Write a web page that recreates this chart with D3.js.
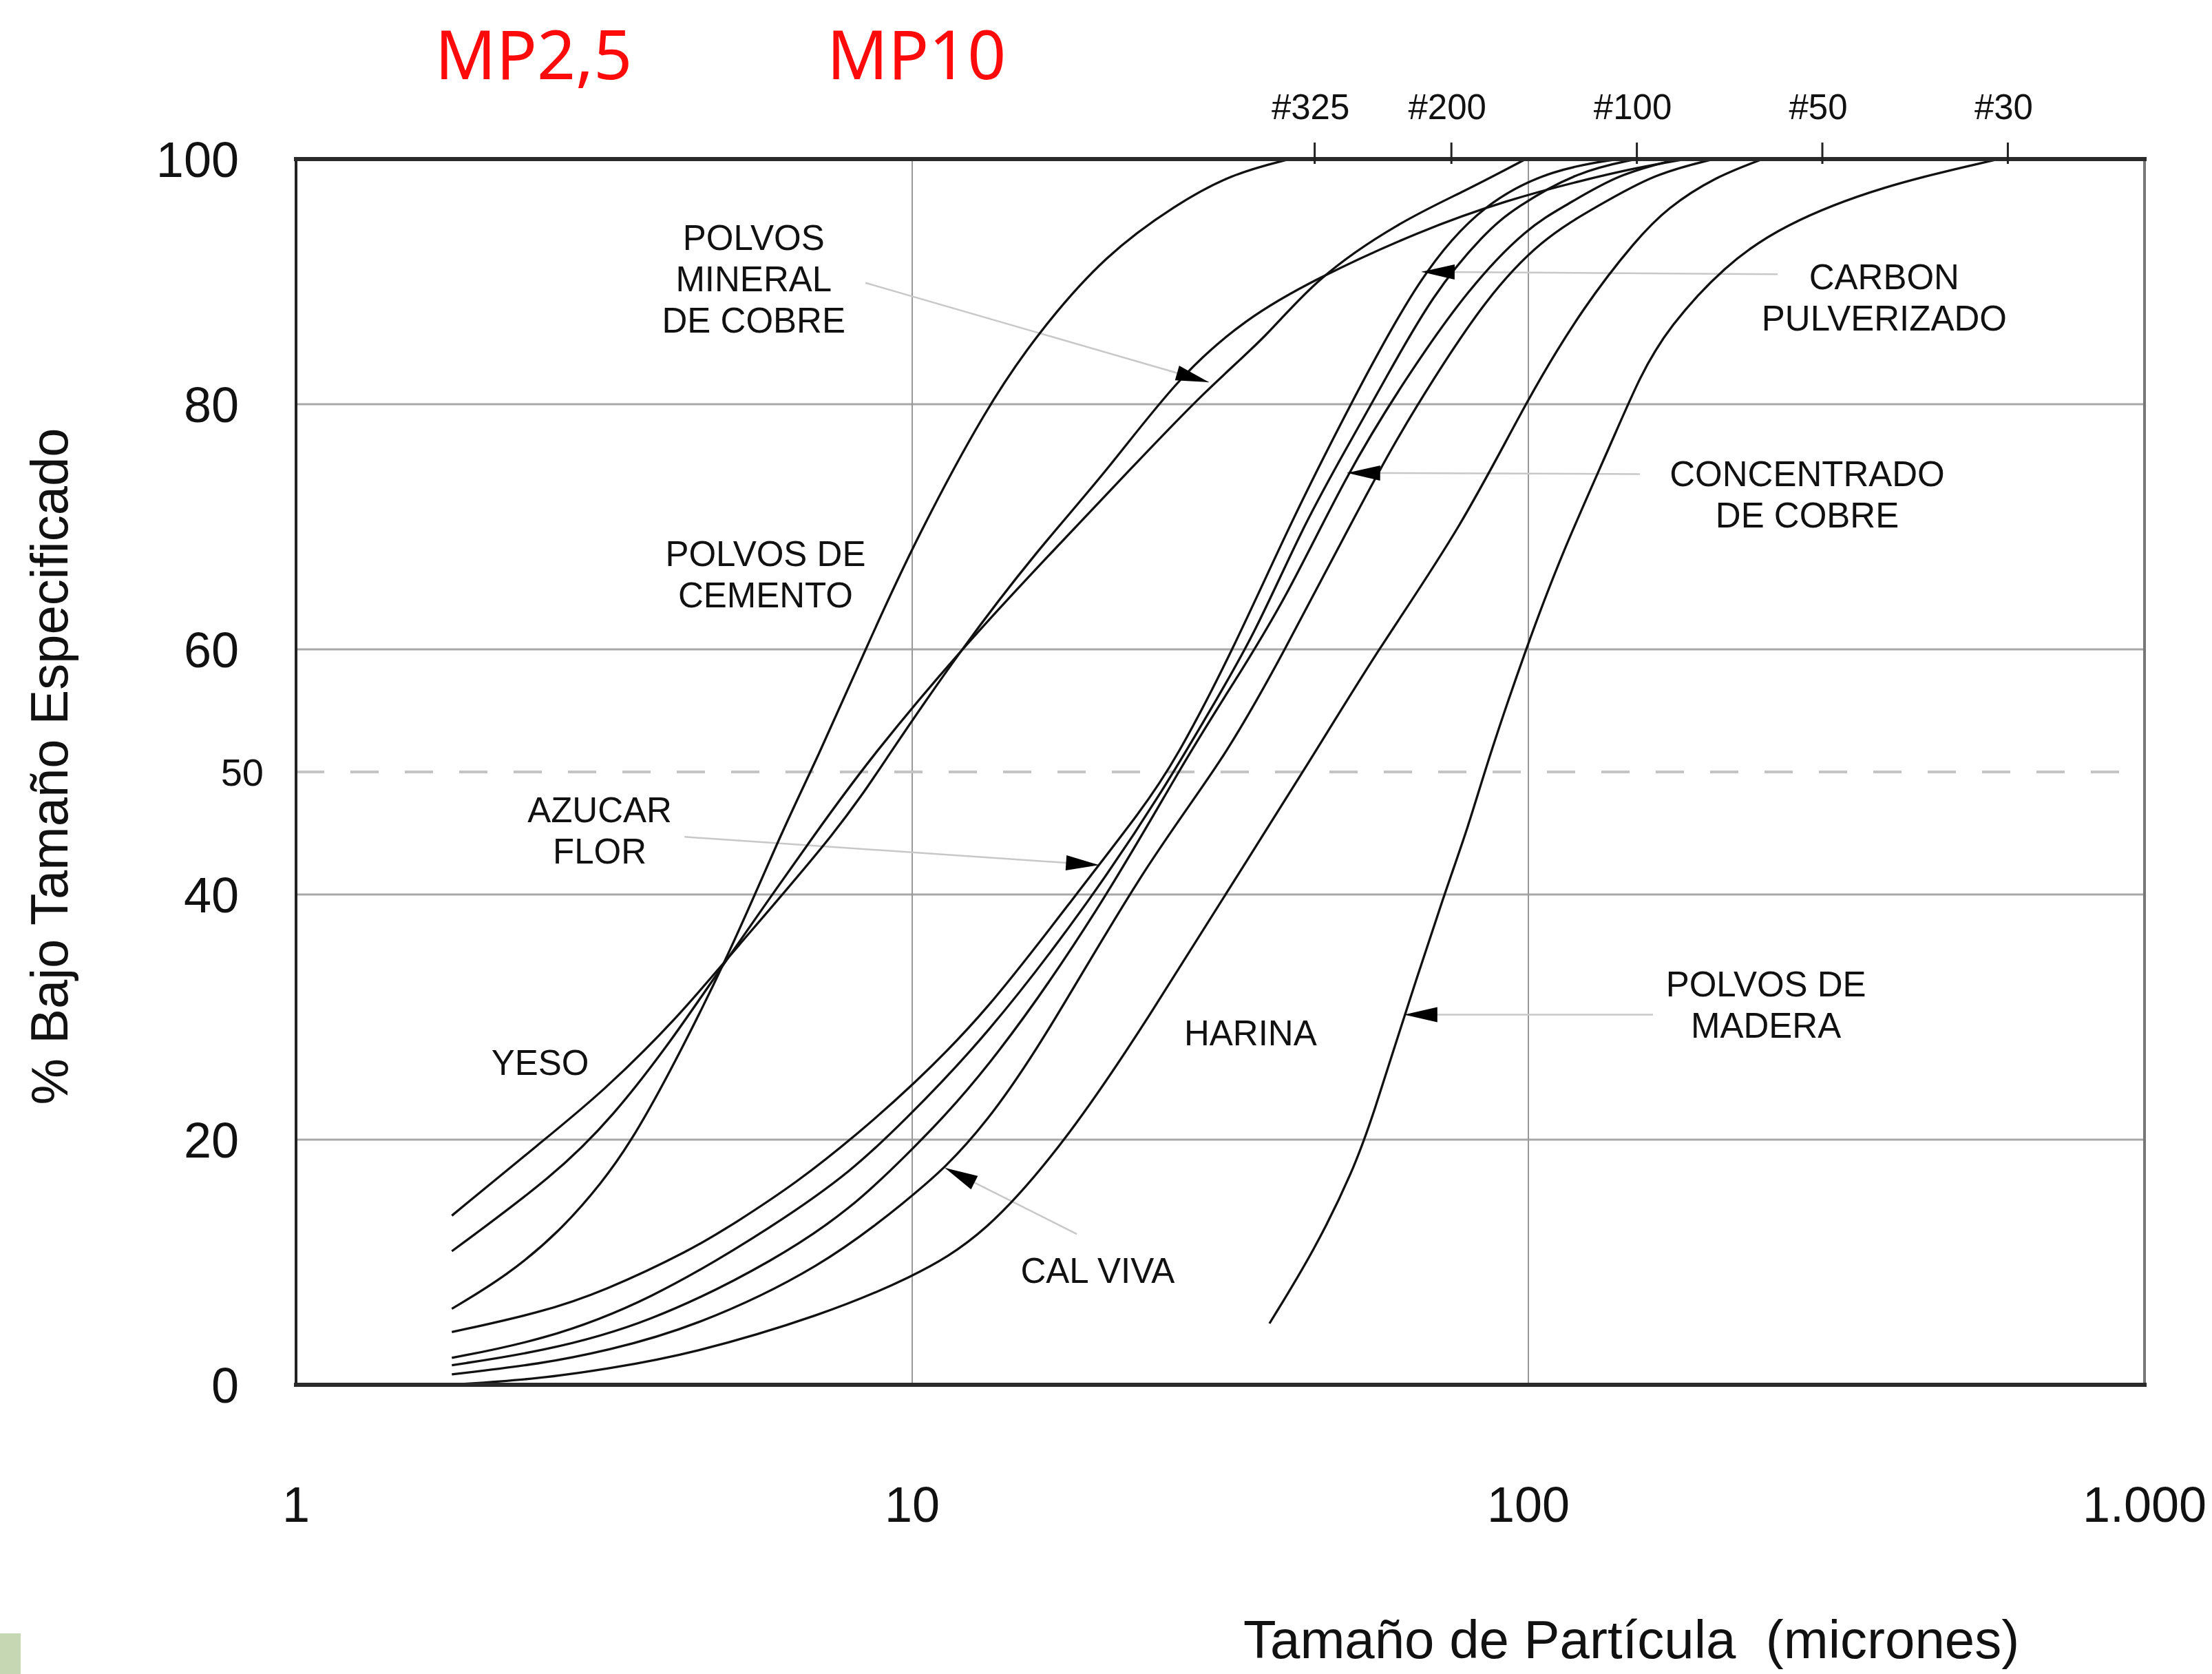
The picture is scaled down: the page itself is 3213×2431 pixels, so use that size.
<!DOCTYPE html>
<html>
<head>
<meta charset="utf-8">
<script src="https://cdn.jsdelivr.net/npm/d3@7"></script>
<style>
  body { margin: 0; background: #fff; }
  svg { display: block; }
  text { font-family: 'Liberation Sans', Arial, sans-serif; fill: #111; }
</style>
</head>
<body>
<div id="chart"></div>
<script>
/* global d3 */
// particle size (microns) vs % under that size

const yeso = [[1.79, 13.8], [2.5, 19.8], [3.15, 23.9], [4.17, 30], [5.03, 34.9], [7.7, 45.6], [9.1, 51.2], [12, 60], [15.9, 68], [20.6, 74.4], [27, 82.2], [34.8, 87], [45, 90.2], [67, 94.2], [93, 96.7], [123, 98.3], [150, 99.3], [180, 100]]
const mineralCobre = [[1.79, 10.9], [2.63, 17.1], [3.26, 21.8], [4.1, 28.3], [5.03, 34.9], [7.1, 45.6], [8.57, 51.2], [12, 60], [16.6, 67.6], [22.7, 74.8], [30, 81.2], [37.8, 85.6], [45, 90.2], [61.8, 94.9], [79, 97.4], [99, 100]]
const cemento = [[1.79, 6.2], [2.2, 8.9], [2.68, 12.5], [3.15, 16.6], [3.48, 19.7], [3.97, 24.7], [5.03, 34.9], [6.2, 45.6], [7, 51], [8.4, 60], [10, 68.4], [13.2, 79.8], [16.1, 86], [20.6, 92.2], [26.8, 96.3], [33, 98.8], [41, 100]]
const azucar = [[1.79, 4.3], [2.5, 5.9], [3.15, 7.6], [4.38, 11], [5.16, 13.2], [6.5, 16.5], [8.17, 20.5], [9.95, 24.3], [13.1, 30.2], [18.7, 40.4], [23.5, 46.8], [26.8, 51], [33.2, 60], [41, 70.2], [50.8, 79.5], [67, 90.8], [85, 96.5], [110, 99.2], [140, 100]]
const carbon = [[1.79, 2.2], [2.5, 3.6], [3.71, 6.7], [6.08, 13.2], [8, 17.5], [9.6, 21.3], [13.1, 28.2], [19.6, 39.7], [25.9, 49], [30, 54.5], [35.8, 61], [43, 70], [50.8, 76.5], [58.5, 82], [70, 89], [85, 94], [95, 96], [120, 99], [150, 100]]
const concentrado = [[1.79, 1.6], [2.5, 2.7], [3.71, 4.9], [6.08, 10.3], [8, 14.5], [9.6, 18.3], [13.1, 25.2], [20.3, 39], [27.7, 51], [33, 57], [40.3, 64], [50.8, 74.4], [63, 82], [80, 89.5], [100, 94.5], [115, 96.2], [140, 98.8], [175, 100]]
const calViva = [[1.79, 0.85], [2.5, 1.7], [3.2, 2.8], [4.38, 4.6], [7.16, 9.6], [9.95, 15.3], [11.3, 17.7], [13.1, 21.2], [16.1, 27.5], [23.9, 42.5], [32.1, 51], [40.3, 60], [50, 69], [60, 76.5], [70, 82], [85, 88.5], [105, 93.5], [130, 96.2], [160, 98.8], [200, 100]]
const harina = [[1.79, 0], [2.5, 0.5], [3.2, 1.3], [4.38, 2.5], [7.16, 5.7], [9.95, 8.7], [13.1, 12.1], [18.1, 20.4], [24.3, 30.1], [32.6, 40.4], [44.6, 51.2], [57, 60], [78, 70], [100, 80.6], [123, 88], [150, 93.5], [168, 96], [200, 98.5], [240, 100]]
const madera = [[38, 5], [45, 11], [52, 17.5], [56, 22], [63, 30.2], [73, 40], [80, 45.6], [86, 51], [99, 60], [113, 67.7], [136, 76.7], [152, 82.4], [169, 86.3], [208, 91.3], [258, 94.6], [373, 97.8], [580, 100]]

const series = [yeso, mineralCobre, cemento, azucar, carbon, concentrado, calViva, harina, madera]

const yTicks = [0, 20, 40, 60, 80, 100]
const xTicks = [1, 10, 100, 1000]
const xTickLabels = ['1', '10', '100', '1.000']
const meshSizes = [45, 75, 150, 300, 600]
const meshLabels = ['#325', '#200', '#100', '#50', '#30']
const pmSizes = [2.43, 10.16]
const pmLabels = ['MP2,5', 'MP10']

// curve labels: [micron, % at first baseline], text lines
const labels = [
  { at: [5.53, 92.6], lines: ['POLVOS', 'MINERAL', 'DE COBRE'] },
  { at: [5.78, 66.8], lines: ['POLVOS DE', 'CEMENTO'] },
  { at: [2.49, 25.3], lines: ['YESO'] },
  { at: [3.11, 45.9], lines: ['AZUCAR', 'FLOR'] },
  { at: [378, 89.4], lines: ['CARBON', 'PULVERIZADO'] },
  { at: [283.5, 73.3], lines: ['CONCENTRADO', 'DE COBRE'] },
  { at: [35.4, 27.7], lines: ['HARINA'] },
  { at: [20, 8.3], lines: ['CAL VIVA'] },
  { at: [243, 31.7], lines: ['POLVOS DE', 'MADERA'] }
]

// leader lines: from [micron, %] to the arrow tip [micron, %]
const arrows = [
  { from: [8.4, 89.9], tip: [30.3, 81.8] },
  { from: [4.27, 44.7], tip: [20.1, 42.4] },
  { from: [253.8, 90.6], tip: [67.1, 90.8] },
  { from: [151.7, 74.3], tip: [50.8, 74.4] },
  { from: [18.5, 12.3], tip: [11.3, 17.7] },
  { from: [159.3, 30.2], tip: [62.9, 30.2] }
]

const W = 3213
const H = 2431
const plot = { left: 430, right: 3115, top: 231, bottom: 2011 }

const x = d3.scaleLog().domain([1, 1000]).range([plot.left, plot.right])
const y = d3.scaleLinear().domain([0, 100]).range([plot.bottom, plot.top])

const svg = d3.select('#chart').append('svg')
  .attr('width', W)
  .attr('height', H)

svg.append('rect').attr('width', W).attr('height', H).attr('fill', '#fff')

// grid
svg.append('g')
  .selectAll('line')
  .data([20, 40, 60, 80])
  .enter().append('line')
  .attr('x1', plot.left).attr('x2', plot.right)
  .attr('y1', d => y(d)).attr('y2', d => y(d))
  .attr('stroke', '#a8a8a8')
  .attr('stroke-width', 3)

svg.append('g')
  .selectAll('line')
  .data([10, 100])
  .enter().append('line')
  .attr('x1', d => x(d)).attr('x2', d => x(d))
  .attr('y1', plot.top).attr('y2', plot.bottom)
  .attr('stroke', '#999')
  .attr('stroke-width', 2)

svg.append('line')
  .attr('x1', plot.left).attr('x2', plot.right)
  .attr('y1', y(50)).attr('y2', y(50))
  .attr('stroke', '#c4c4c4')
  .attr('stroke-width', 4)
  .attr('stroke-dasharray', '41 38')

// leaders go under the curves
svg.append('g')
  .selectAll('line')
  .data(arrows)
  .enter().append('line')
  .attr('x1', d => x(d.from[0])).attr('y1', d => y(d.from[1]))
  .attr('x2', d => x(d.tip[0])).attr('y2', d => y(d.tip[1]))
  .attr('stroke', '#c8c8c8')
  .attr('stroke-width', 2.5)

const line = d3.line()
  .x(d => x(d[0]))
  .y(d => y(d[1]))
  .curve(d3.curveBasis)

svg.append('g')
  .selectAll('path')
  .data(series)
  .enter().append('path')
  .attr('d', line)
  .attr('fill', 'none')
  .attr('stroke', '#111')
  .attr('stroke-width', 3.3)

// arrow heads
svg.append('g')
  .selectAll('path')
  .data(arrows)
  .enter().append('path')
  .attr('d', d => {
    const tx = x(d.tip[0])
    const ty = y(d.tip[1])
    const dx = x(d.from[0]) - tx
    const dy = y(d.from[1]) - ty
    const len = Math.sqrt(dx * dx + dy * dy)
    const ux = dx / len
    const uy = dy / len
    const bx = tx + ux * 48
    const by = ty + uy * 48
    return `M${tx},${ty}L${bx - uy * 11},${by + ux * 11}L${bx + uy * 11},${by - ux * 11}Z`
  })
  .attr('fill', '#000')

// frame
const frame = svg.append('g').attr('stroke-linecap', 'square')
frame.append('line').attr('x1', plot.left).attr('x2', plot.left).attr('y1', plot.top).attr('y2', plot.bottom).attr('stroke', '#222').attr('stroke-width', 4)
frame.append('line').attr('x1', plot.right).attr('x2', plot.right).attr('y1', plot.top).attr('y2', plot.bottom).attr('stroke', '#777').attr('stroke-width', 4)
frame.append('line').attr('x1', plot.left).attr('x2', plot.right).attr('y1', plot.top).attr('y2', plot.top).attr('stroke', '#2a2a2a').attr('stroke-width', 6)
frame.append('line').attr('x1', plot.left).attr('x2', plot.right).attr('y1', plot.bottom).attr('y2', plot.bottom).attr('stroke', '#2a2a2a').attr('stroke-width', 6)

// y tick labels
svg.append('g')
  .selectAll('text')
  .data(yTicks)
  .enter().append('text')
  .attr('x', 347)
  .attr('y', d => y(d))
  .attr('dy', '0.36em')
  .attr('text-anchor', 'end')
  .attr('font-size', 72)
  .text(d => d)

svg.append('text')
  .attr('x', 383)
  .attr('y', y(50))
  .attr('dy', '0.36em')
  .attr('text-anchor', 'end')
  .attr('font-size', 56)
  .text('50')

// x tick labels
svg.append('g')
  .selectAll('text')
  .data(xTicks)
  .enter().append('text')
  .attr('x', d => x(d))
  .attr('y', 2210)
  .attr('text-anchor', 'middle')
  .attr('font-size', 72)
  .text((d, i) => xTickLabels[i])

// sieve mesh ticks on top
const mesh = svg.append('g')
mesh.selectAll('line')
  .data(meshSizes)
  .enter().append('line')
  .attr('x1', d => x(d)).attr('x2', d => x(d))
  .attr('y1', 207).attr('y2', 238)
  .attr('stroke', '#222')
  .attr('stroke-width', 3)
mesh.selectAll('text')
  .data(meshSizes)
  .enter().append('text')
  .attr('x', d => x(d) - 6)
  .attr('y', 173)
  .attr('text-anchor', 'middle')
  .attr('font-size', 51)
  .text((d, i) => meshLabels[i])

// PM markers
svg.append('g')
  .selectAll('text')
  .data(pmSizes)
  .enter().append('text')
  .attr('x', d => x(d))
  .attr('y', 115)
  .attr('text-anchor', 'middle')
  .attr('font-size', 98)
  .style('font-family', "'Noto Sans', 'Open Sans', sans-serif")
  .style('fill', '#fe0a0a')
  .text((d, i) => pmLabels[i])

// curve labels
const lab = svg.append('g')
  .selectAll('text')
  .data(labels)
  .enter().append('text')
  .attr('text-anchor', 'middle')
  .attr('font-size', 51)
lab.selectAll('tspan')
  .data(d => d.lines.map((t, i) => ({ t, i, at: d.at })))
  .enter().append('tspan')
  .attr('x', d => x(d.at[0]))
  .attr('y', d => y(d.at[1]) + d.i * 60)
  .text(d => d.t)

// axis titles
svg.append('text')
  .attr('transform', 'translate(98,1113) rotate(-90)')
  .attr('text-anchor', 'middle')
  .attr('font-size', 76)
  .text('% Bajo Tamaño Especificado')

svg.append('text')
  .attr('x', 1806)
  .attr('y', 2408)
  .attr('font-size', 78)
  .style('white-space', 'pre')
  .text('Tamaño de Partícula  (micrones)')

// slide leftover in the corner
svg.append('rect')
  .attr('x', 0).attr('y', 2372)
  .attr('width', 30).attr('height', 59)
  .attr('fill', '#c6d7b4')
</script>
</body>
</html>
